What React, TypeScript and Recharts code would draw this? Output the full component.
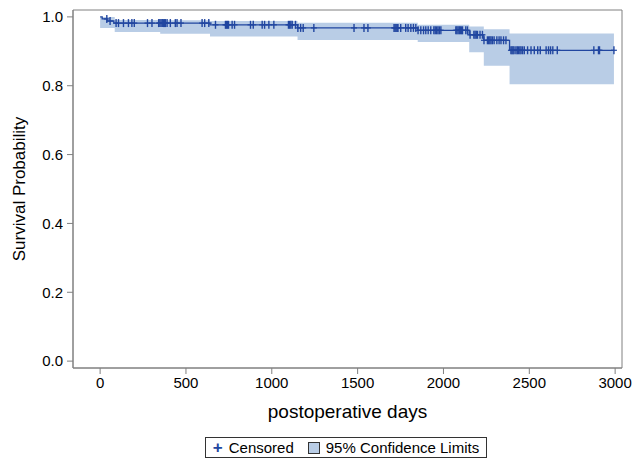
// Kaplan-Meier: sobrevida pós-operatória com faixa de IC 95% e marcas de censura.

import { Area, ComposedChart, Line, ReferenceArea, Scatter, XAxis, YAxis } from "recharts";

const LINE_COLOR = "#2146a0";
const BAND_COLOR = "#b9cde6";
const AXIS_COLOR = "#808080";
const FONT = '"Liberation Sans", Arial, sans-serif';

// Degraus da curva (dia do evento -> probabilidade após o evento).
const stepDays = [0, 12, 40, 80, 640, 1150, 1850, 2150, 2235, 2385, 2993];
const survival = [1.0, 0.994, 0.988, 0.982, 0.977, 0.968, 0.961, 0.948, 0.932, 0.903, 0.903];

// Limites de confiança 95% (degraus).
const bandDays = [0, 85, 350, 640, 1150, 1850, 2150, 2235, 2385, 2993];
const bandLower = [0.968, 0.956, 0.951, 0.943, 0.933, 0.927, 0.897, 0.858, 0.804, 0.804];
const bandUpper = [1.0, 0.991, 0.99, 0.988, 0.983, 0.977, 0.972, 0.964, 0.952, 0.952];

// Dias com observação censurada.
const censoredDays = [
  39, 58, 93, 107, 136, 165, 185, 199, 276, 302, 341, 348, 355, 362, 369, 376, 380, 390, 409,
  438, 448, 471, 594, 609, 633, 672, 730, 736, 742, 748, 769, 783, 876, 892, 944, 958, 983,
  1012, 1097, 1104, 1111, 1119, 1138, 1152, 1168, 1183, 1245, 1479, 1537, 1560, 1712, 1718,
  1724, 1730, 1735, 1751, 1780, 1794, 1810, 1825, 1839, 1852, 1868, 1884, 1897, 1911, 1926,
  1944, 1952, 1960, 1968, 1976, 1985, 2072, 2078, 2085, 2092, 2098, 2105, 2111, 2130, 2140,
  2155, 2177, 2184, 2191, 2198, 2213, 2227, 2236, 2256, 2263, 2270, 2277, 2285, 2295, 2311,
  2324, 2335, 2350, 2364, 2393, 2399, 2405, 2411, 2422, 2430, 2437, 2445, 2452, 2461, 2471,
  2490, 2510, 2529, 2549, 2564, 2598, 2612, 2624, 2637, 2663, 2876, 2903, 2909, 2993,
];

const xTicks = [0, 500, 1000, 1500, 2000, 2500, 3000];
const yTicks = [0, 0.2, 0.4, 0.6, 0.8, 1.0];

const X_DOMAIN: [number, number] = [-158, 3040];
const Y_DOMAIN: [number, number] = [-0.02, 1.02];

/** Valor da curva em degraus no dia informado. */
function survivalAt(day: number): number {
  let value = survival[0];
  stepDays.forEach((d, i) => {
    if (d <= day) value = survival[i];
  });
  return value;
}

const curveRows = stepDays.map((day, i) => ({ day, s: survival[i] }));
const bandRows = bandDays.map((day, i) => ({ day, ci: [bandLower[i], bandUpper[i]] }));
const censorRows = censoredDays.map((day) => ({ day, s: survivalAt(day) }));

function CensorMark(props: { cx?: number; cy?: number }) {
  const { cx, cy } = props;
  if (cx == null || cy == null) return null;
  return (
    <g>
      <line x1={cx} x2={cx} y1={cy - 4} y2={cy + 4} stroke={LINE_COLOR} strokeWidth={1.4} />
      <line x1={cx - 3} x2={cx + 3} y1={cy} y2={cy} stroke={LINE_COLOR} strokeWidth={1.2} />
    </g>
  );
}

const tickStyle = { fill: "#000", fontSize: 15, fontFamily: FONT };

export default function App() {
  return (
    <div
      style={{
        position: "absolute",
        left: 0,
        top: 0,
        width: 632,
        height: 461,
        background: "#fff",
        fontFamily: FONT,
      }}
    >
      <ComposedChart width={632} height={461} margin={{ top: 10, right: 10, bottom: 38, left: 13 }}>
        <XAxis
          type="number"
          dataKey="day"
          domain={X_DOMAIN}
          allowDataOverflow
          ticks={xTicks}
          tick={tickStyle}
          tickSize={6}
          tickMargin={3}
          tickLine={{ stroke: AXIS_COLOR }}
          axisLine={{ stroke: AXIS_COLOR }}
          height={55}
          label={{
            value: "postoperative days",
            position: "insideBottom",
            offset: 5,
            style: { fill: "#000", fontSize: 19, fontFamily: FONT },
          }}
        />
        <YAxis
          type="number"
          domain={Y_DOMAIN}
          allowDataOverflow
          ticks={yTicks}
          tickFormatter={(v: number) => v.toFixed(1)}
          tick={tickStyle}
          tickSize={6}
          tickMargin={4}
          tickLine={{ stroke: AXIS_COLOR }}
          axisLine={{ stroke: AXIS_COLOR }}
          width={60}
          label={{
            value: "Survival Probability",
            angle: -90,
            position: "insideLeft",
            offset: 6,
            style: { fill: "#000", fontSize: 17, fontFamily: FONT, textAnchor: "middle" },
          }}
        />
        <Area
          data={bandRows}
          dataKey="ci"
          type="stepAfter"
          fill={BAND_COLOR}
          fillOpacity={1}
          stroke="none"
          isAnimationActive={false}
        />
        <Line
          data={curveRows}
          dataKey="s"
          type="stepAfter"
          stroke={LINE_COLOR}
          strokeWidth={1.3}
          dot={false}
          activeDot={false}
          isAnimationActive={false}
        />
        <Scatter
          data={censorRows}
          dataKey="s"
          shape={(p: any) => <CensorMark cx={p.cx} cy={p.cy} />}
          isAnimationActive={false}
        />
        <ReferenceArea
          x1={X_DOMAIN[0]}
          x2={X_DOMAIN[1]}
          y1={Y_DOMAIN[0]}
          y2={Y_DOMAIN[1]}
          fill="none"
          stroke={AXIS_COLOR}
          strokeWidth={1}
          ifOverflow="visible"
        />
      </ComposedChart>

      <div
        style={{
          position: "absolute",
          left: 205,
          top: 437,
          width: 280,
          height: 19,
          border: "1px solid #333",
          display: "flex",
          alignItems: "center",
          justifyContent: "center",
          gap: 6,
          fontSize: 15,
          color: "#000",
          boxSizing: "content-box",
        }}
      >
        <span style={{ color: LINE_COLOR, fontSize: 17, lineHeight: "16px", fontWeight: 600 }}>+</span>
        <span>Censored</span>
        <span
          style={{
            display: "inline-block",
            width: 10,
            height: 10,
            marginLeft: 8,
            background: BAND_COLOR,
            border: "1px solid #333",
          }}
        />
        <span>95% Confidence Limits</span>
      </div>
    </div>
  );
}
